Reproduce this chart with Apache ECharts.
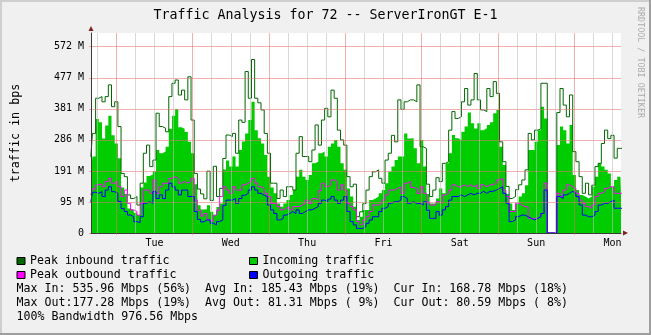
<!DOCTYPE html>
<html>
<head>
<meta charset="utf-8">
<title>Traffic Analysis for 72 -- ServerIronGT E-1</title>
<script src="https://cdn.jsdelivr.net/npm/echarts@6/dist/echarts.min.js"></script>
<style>
  html, body { margin: 0; padding: 0; background: #f0f0f0; }
  #chart { width: 651px; height: 335px; }
</style>
</head>
<body>
<div id="chart"></div>
<script>
// Hourly samples, starting Monday 16:00 (hours counted from Monday 00:00).
const startHour = 16;

// Values in M (binary megabits per second), one per hour.
const peakIn = [
  234, 306, 414, 419, 403, 419, 455, 388, 403, 327, 183, 173, 117, 106, 112, 86,
  153, 245, 270, 204, 224, 368, 327, 322, 311, 419, 460, 470, 424, 439, 409, 480,
  347, 183, 135, 120, 105, 190, 100, 205, 112, 137, 229, 301, 296, 306, 245, 347,
  340, 496, 414, 533, 414, 400, 378, 306, 245, 153, 153, 106, 132, 112, 142, 142,
  132, 245, 296, 235, 235, 219, 255, 332, 270, 347, 383, 357, 439, 414, 316, 286,
  270, 173, 142, 150, 50, 65, 90, 132, 173, 188, 194, 168, 153, 224, 245, 300,
  280, 409, 380, 403, 409, 409, 403, 455, 265, 260, 150, 112, 132, 170, 158, 214,
  219, 316, 373, 352, 357, 403, 444, 393, 409, 490, 409, 378, 373, 444, 419, 465,
  429, 280, 219, 143, 106, 112, 133, 148, 163, 194, 306, 286, 316, 320, 460, 460,
  0, 0, 0, 370, 444, 393, 357, 424, 250, 219, 173, 122, 153, 117, 147, 204,
  214, 275, 316, 290, 300, 230, 260, 260
];
const incoming = [
  191, 235, 350, 340, 290, 330, 360, 300, 275, 230, 140, 120, 75, 70, 62, 55,
  140, 155, 175, 180, 190, 255, 245, 250, 265, 320, 360, 380, 325, 320, 310, 280,
  245, 150, 85, 72, 73, 85, 65, 55, 80, 91, 195, 223, 204, 235, 204, 255,
  281, 306, 347, 403, 316, 291, 275, 240, 173, 140, 122, 91, 81, 91, 101, 117,
  132, 173, 194, 173, 163, 178, 214, 219, 245, 250, 235, 265, 275, 286, 265, 214,
  194, 137, 112, 81, 40, 50, 71, 71, 101, 106, 112, 122, 132, 153, 188, 204,
  224, 235, 235, 306, 290, 291, 260, 214, 286, 204, 120, 91, 91, 106, 137, 122,
  214, 245, 301, 291, 286, 311, 327, 370, 337, 321, 337, 316, 322, 332, 340, 368,
  378, 265, 209, 120, 91, 71, 91, 112, 122, 147, 255, 255, 280, 316, 388, 352,
  0, 0, 0, 270, 327, 316, 275, 332, 178, 132, 117, 112, 106, 112, 143, 173,
  214, 204, 194, 183, 143, 163, 173, 173
];
const peakOut = [
  117, 135, 148, 150, 142, 158, 168, 153, 158, 142, 112, 132, 91, 71, 66, 55,
  91, 132, 132, 122, 163, 122, 142, 153, 153, 168, 173, 168, 153, 158, 153, 158,
  168, 101, 70, 52, 60, 40, 35, 55, 70, 112, 142, 132, 122, 142, 132, 132,
  148, 153, 158, 168, 153, 142, 137, 122, 112, 91, 91, 81, 71, 76, 81, 71,
  81, 81, 86, 91, 101, 91, 106, 101, 130, 153, 142, 148, 163, 158, 132, 148,
  132, 91, 81, 71, 35, 25, 40, 50, 66, 86, 86, 91, 101, 117, 132, 132,
  137, 142, 122, 153, 158, 140, 137, 122, 142, 122, 95, 86, 86, 96, 91, 117,
  122, 132, 148, 142, 142, 148, 142, 148, 142, 148, 137, 148, 142, 148, 148, 153,
  163, 168, 132, 112, 66, 66, 91, 86, 81, 80, 45, 45, 45, 50, 60, 153,
  0, 0, 0, 122, 112, 132, 148, 142, 137, 122, 101, 91, 81, 76, 86, 112,
  122, 126, 137, 142, 142, 122, 122, 122
];
const outgoing = [
  96, 125, 122, 127, 112, 132, 142, 127, 122, 97, 75, 66, 55, 50, 35, 32,
  50, 91, 96, 91, 127, 106, 117, 106, 132, 153, 142, 132, 117, 132, 132, 112,
  112, 66, 42, 34, 40, 40, 30, 25, 35, 40, 85, 101, 101, 106, 91, 106,
  116, 122, 132, 142, 132, 122, 116, 112, 86, 71, 60, 40, 45, 55, 60, 66,
  60, 71, 60, 66, 71, 71, 76, 81, 91, 101, 96, 104, 112, 101, 91, 101,
  112, 66, 35, 25, 14, 14, 20, 30, 40, 50, 50, 66, 76, 81, 91, 96,
  96, 101, 112, 106, 91, 96, 91, 91, 86, 96, 70, 45, 45, 66, 55, 71,
  81, 101, 112, 112, 117, 112, 117, 122, 117, 122, 122, 128, 122, 128, 128, 132,
  137, 142, 122, 91, 35, 40, 50, 55, 55, 50, 45, 40, 45, 50, 60, 132,
  0, 0, 0, 112, 106, 117, 122, 128, 122, 112, 86, 55, 50, 50, 55, 66,
  86, 91, 91, 96, 101, 76, 76, 76
];

const dayLabels = ['Tue', 'Wed', 'Thu', 'Fri', 'Sat', 'Sun', 'Mon'];
const yTickLabels = ['0', '95 M', '191 M', '286 M', '381 M', '477 M', '572 M'];
const statsLines = [
  'Max In: 535.96 Mbps (56%)  Avg In: 185.43 Mbps (19%)  Cur In: 168.78 Mbps (18%)',
  'Max Out:177.28 Mbps (19%)  Avg Out: 81.31 Mbps ( 9%)  Cur Out: 80.59 Mbps ( 8%)',
  '100% Bandwidth 976.56 Mbps'
];

const X_MIN = 16.05, X_MAX = 182.68;     // hours
const Y_STEP = 95.367431640625;          // 100 Mbit/s expressed in binary M
const Y_MAX = 614.4;
const MONO = 'DejaVu Sans Mono';
const MAJOR = 'rgba(228,112,112,0.55)';
const MINOR = 'rgba(190,190,190,0.6)';

const toPairs = arr => arr.map((v, i) => [startHour + i, v]);

const midnights = [], sixHours = [], noons = [];
for (let h = 24; h <= X_MAX; h += 24) midnights.push(h);
for (let h = 18; h <= X_MAX; h += 6) if (h % 24) sixHours.push(h);
for (let h = 36; h <= X_MAX; h += 24) noons.push(h);
const yTicks = yTickLabels.map((_, i) => i * Y_STEP);

const lineSeries = (name, data, color, z) => ({
  name, type: 'line', step: 'middle', data: toPairs(data),
  symbol: 'none', showSymbol: false, z, silent: true,
  itemStyle: { color },
  lineStyle: { color, width: 1 },
  emphasis: { disabled: true }
});

const chart = echarts.init(document.getElementById('chart'), null, { renderer: 'canvas' });

const hiddenParts = {
  axisLine: { show: false }, axisTick: { show: false },
  axisLabel: { show: false }, splitLine: { show: false }
};

chart.setOption({
  animation: false,
  backgroundColor: '#f0f0f0',
  title: {
    text: 'Traffic Analysis for 72 -- ServerIronGT E-1',
    left: 'center', top: 9, padding: 0,
    textStyle: { fontFamily: MONO, fontSize: 13.3, fontWeight: 'normal', color: '#000' }
  },
  grid: {
    left: 91, right: 30, top: 33, bottom: 102,
    show: true, backgroundColor: '#ffffff', borderWidth: 0,
    outerBoundsMode: 'none'
  },
  legend: [
    {
      left: 16.5, top: 254, orient: 'vertical', padding: 0, itemGap: 0,
      itemWidth: 8, itemHeight: 7, icon: 'rect', selectedMode: false,
      itemStyle: { borderColor: '#000', borderWidth: 1 },
      textStyle: { fontFamily: MONO, fontSize: 11.6, color: '#000', lineHeight: 14 },
      data: ['Peak inbound traffic', 'Peak outbound traffic']
    },
    {
      left: 249, top: 254, orient: 'vertical', padding: 0, itemGap: 0,
      itemWidth: 8, itemHeight: 7, icon: 'rect', selectedMode: false,
      itemStyle: { borderColor: '#000', borderWidth: 1 },
      textStyle: { fontFamily: MONO, fontSize: 11.6, color: '#000', lineHeight: 14 },
      data: ['Incoming traffic', 'Outgoing traffic']
    }
  ],
  xAxis: [
    {
      type: 'value', min: X_MIN, max: X_MAX, position: 'bottom', z: 5,
      axisLine: { show: true, lineStyle: { color: '#3a3a3a', width: 1 } },
      axisTick: { show: true, customValues: midnights, length: 2, lineStyle: { color: MAJOR } },
      axisLabel: {
        customValues: noons, margin: 5, color: '#000', fontFamily: MONO, fontSize: 10,
        formatter: v => dayLabels[noons.indexOf(v)] || ''
      },
      splitLine: { show: true, lineStyle: { color: MAJOR, width: 1 } }
    },
    {
      type: 'value', min: X_MIN, max: X_MAX, position: 'bottom', z: 5,
      axisLine: { show: false },
      axisTick: { show: false, customValues: sixHours },
      axisLabel: { show: false },
      splitLine: { show: true, lineStyle: { color: MINOR, width: 1 } }
    },
    {
      type: 'value', min: X_MIN, max: X_MAX, position: 'bottom', z: 6,
      ...hiddenParts,
      axisLine: {
        show: true, lineStyle: { color: '#7f1f1f', width: 0 },
        symbol: ['none', 'triangle'], symbolSize: [5, 5], symbolOffset: [0, 4.5]
      }
    }
  ],
  yAxis: [
    {
      type: 'value', min: 0, max: Y_MAX, position: 'left', z: 5,
      axisLine: { show: true, lineStyle: { color: '#3a3a3a', width: 1 } },
      axisTick: { show: true, customValues: yTicks, length: 2, lineStyle: { color: MAJOR } },
      axisLabel: {
        customValues: yTicks, margin: 7, color: '#000', fontFamily: MONO, fontSize: 10,
        formatter: v => yTickLabels[Math.round(v / Y_STEP)]
      },
      splitLine: { show: true, showMinLine: false, lineStyle: { color: MAJOR, width: 1 } }
    },
    {
      type: 'value', min: 0, max: Y_MAX, position: 'left', z: 6,
      ...hiddenParts,
      axisLine: {
        show: true, lineStyle: { color: '#7f1f1f', width: 0 },
        symbol: ['none', 'triangle'], symbolSize: [5, 5], symbolOffset: [0, 4.5]
      }
    }
  ],
  series: [
    Object.assign(lineSeries('Incoming traffic', incoming, '#00cc00', 2), {
      lineStyle: { width: 0 },
      areaStyle: { color: '#00cc00', opacity: 1 }
    }),
    lineSeries('Peak inbound traffic', peakIn, '#006600', 3),
    lineSeries('Peak outbound traffic', peakOut, '#ff00ff', 3),
    lineSeries('Outgoing traffic', outgoing, '#0000ff', 3)
  ],
  graphic: [
    // frame shading
    { type: 'rect', shape: { x: 0, y: 0, width: 651, height: 2 }, style: { fill: '#cfcfcf' }, silent: true },
    { type: 'rect', shape: { x: 0, y: 0, width: 2, height: 335 }, style: { fill: '#cfcfcf' }, silent: true },
    { type: 'rect', shape: { x: 0, y: 333, width: 651, height: 2 }, style: { fill: '#9e9e9e' }, silent: true },
    { type: 'rect', shape: { x: 649, y: 0, width: 2, height: 335 }, style: { fill: '#9e9e9e' }, silent: true },
    {
      type: 'text', x: 16, y: 133, rotation: Math.PI / 2, silent: true,
      style: { text: 'traffic in bps', fontFamily: MONO, fontSize: 11.7, fill: '#000', align: 'center', verticalAlign: 'middle' }
    },
    {
      type: 'text', x: 640.5, y: 62.5, rotation: -Math.PI / 2, silent: true,
      style: { text: 'RRDTOOL / TOBI OETIKER', fontFamily: MONO, fontSize: 8.4, fill: '#ababab', align: 'center', verticalAlign: 'middle' }
    },
    ...statsLines.map((t, i) => ({
      type: 'text', x: 16.6, y: 289 + i * 14, silent: true,
      style: { text: t, fontFamily: MONO, fontSize: 11.6, fill: '#000', align: 'left', verticalAlign: 'middle' }
    }))
  ]
});
</script>
</body>
</html>
